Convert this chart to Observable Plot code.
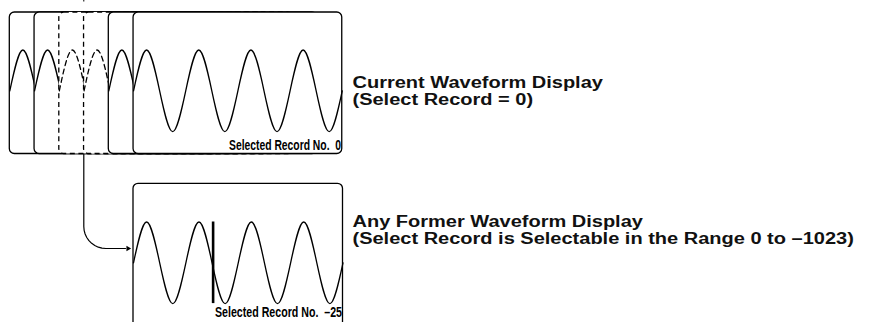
<!DOCTYPE html>
<html>
<head>
<meta charset="utf-8">
<script src="https://cdn.jsdelivr.net/npm/d3@7"></script>
<script src="https://cdn.jsdelivr.net/npm/@observablehq/plot@0.6"></script>
<style>
  html, body { margin: 0; padding: 0; background: #fff; overflow: hidden; }
  #chart svg { display: block; }
</style>
</head>
<body>
<div id="chart"></div>
<script>
// ---------- data ----------
// stacked acquisition records (oldest at left, current at right)
const stackRecords = ["-1023", "-1022", "…", "…", "-1", "0"];
const stackOmitted = [false, false, true, true, false, false];
// waveform levels read at every quarter period (zero, peak, zero, trough …), 4 periods per screen
const waveLevels = [0, 1, 0, -1, 0, 1, 0, -1, 0, 1, 0, -1, 0, 1, 0, -1, 0];
// marker bar in the former-record display spans peak to trough
const markerLevels = [1, -1];
const markerPhase = [6.08]; // in quarter periods from the screen's left edge
const recordLabels = ["Selected Record No.\u00a0\u00a00", "Selected Record No.\u00a0\u00a0\u201325"];
const captionLines = [
  "Current Waveform Display",
  "(Select Record = 0)",
  "Any Former Waveform Display",
  "(Select Record is Selectable in the Range 0 to \u20131023)"
];

// ---------- layout ----------
const W = 887, H = 322;
const L = {
  topY1: 12, topY2: 153.5, left0: 9.3, step: 24.75, frameW: 208.7,
  topMid: 90.3, amp: 40.8,
  botX1: 133, botX2: 342.5, botY1: 183.3, botY2: 340, botMid: 262.3,
  arrowX: 83.3, arrowTurnY: 226, arrowR: 22, arrowEndX: 125, arrowTipX: 130.5,
  capX: 352, capY: [87.5, 104.5, 226.5, 243.5], capSize: 16, capStretch: 1.25,
  labelRight: [340.5, 341.5], labelY: [149, 316], labelW: [112, 127], labelSize: 14,
  sw: 1.3, corner: 5
};
const q = L.frameW / (waveLevels.length - 1);
const wavePts = (left, mid) => waveLevels.map((v, i) => ({x: left + i * q, y: mid - v * L.amp}));

const marks = [];
// stacked frames, back to front
stackRecords.forEach((rec, i) => {
  const left = L.left0 + i * L.step;
  const dash = stackOmitted[i] ? {strokeDasharray: "5,3.6"} : {};
  marks.push(Plot.rect([{x1: left, x2: left + L.frameW, y1: L.topY1, y2: L.topY2}],
    {x1: "x1", x2: "x2", y1: "y1", y2: "y2", fill: "white", stroke: "black", strokeWidth: L.sw, rx: L.corner, ...dash}));
  marks.push(Plot.line(wavePts(left, L.topMid),
    {x: "x", y: "y", curve: "natural", stroke: "black", strokeWidth: L.sw, ...dash}));
});
// label in current display
marks.push(Plot.text([{x: L.labelRight[0], y: L.labelY[0], t: recordLabels[0]}],
  {x: "x", y: "y", text: "t", textAnchor: "end", lineAnchor: "bottom", fontSize: L.labelSize,
   fontWeight: "bold", fontFamily: "'Liberation Sans Narrow', 'Liberation Sans', Arial, sans-serif", fill: "black"}));

// former record display
const botQ = (L.botX2 - L.botX1) / (waveLevels.length - 1);
marks.push(Plot.rect([{x1: L.botX1, x2: L.botX2, y1: L.botY1, y2: L.botY2}],
  {x1: "x1", x2: "x2", y1: "y1", y2: "y2", fill: "white", stroke: "black", strokeWidth: L.sw, rx: L.corner}));
marks.push(Plot.line(waveLevels.map((v, i) => ({x: L.botX1 + i * botQ, y: L.botMid - v * L.amp})),
  {x: "x", y: "y", curve: "natural", stroke: "black", strokeWidth: L.sw}));
marks.push(Plot.ruleX(markerPhase.map(p => ({x: L.botX1 + p * botQ, y1: L.botMid - markerLevels[0] * L.amp, y2: L.botMid - markerLevels[1] * L.amp})),
  {x: "x", y1: "y1", y2: "y2", stroke: "black", strokeWidth: 2.6}));
marks.push(Plot.text([{x: L.labelRight[1], y: L.labelY[1], t: recordLabels[1]}],
  {x: "x", y: "y", text: "t", textAnchor: "end", lineAnchor: "bottom", fontSize: L.labelSize,
   fontWeight: "bold", fontFamily: "'Liberation Sans Narrow', 'Liberation Sans', Arial, sans-serif", fill: "black"}));

// connector arrow from an omitted record down to the former display
const arc = d3.range(0, 91, 10).map(a => ({
  x: L.arrowX + L.arrowR - L.arrowR * Math.cos(a * Math.PI / 180),
  y: L.arrowTurnY + L.arrowR * Math.sin(a * Math.PI / 180)
}));
const arrowPath = [{x: L.arrowX, y: L.topY2}, ...arc, {x: L.arrowEndX, y: L.arrowTurnY + L.arrowR}];
marks.push(Plot.line(arrowPath, {x: "x", y: "y", stroke: "black", strokeWidth: 1.2}));
marks.push(Plot.dot([{x: L.arrowTipX - 3, y: L.arrowTurnY + L.arrowR}],
  {x: "x", y: "y", symbol: "triangle", rotate: 90, r: 2, fill: "black", stroke: "none"}));
marks.push(Plot.ruleX([{x: L.arrowX, y1: 0, y2: 1.5}], {x: "x", y1: "y1", y2: "y2", stroke: "black", strokeWidth: 1}));

// captions
marks.push(Plot.text(captionLines.map((t, i) => ({x: L.capX, y: L.capY[i], t})),
  {x: "x", y: "y", text: "t", textAnchor: "start", lineAnchor: "bottom", fontSize: L.capSize,
   fontWeight: "bold", fontFamily: "'Liberation Sans', Arial, Helvetica, sans-serif", fill: "#111"}));

const chart = Plot.plot({
  width: W, height: H,
  marginTop: 0, marginRight: 0, marginBottom: 0, marginLeft: 0,
  x: {domain: [0, W], range: [0, W], axis: null},
  y: {domain: [0, H], range: [0, H], axis: null},
  style: {background: "white", overflow: "hidden"},
  marks
});
document.getElementById("chart").appendChild(chart);

// rounded frame corners (in case the rect mark ignores rx)
chart.querySelectorAll("rect").forEach(el => {
  el.setAttribute("rx", L.corner);
  el.setAttribute("ry", L.corner);
});

// stretch text horizontally like the reference artwork
chart.querySelectorAll("text").forEach(el => {
  const s = el.textContent;
  const li = recordLabels.indexOf(s);
  if (li >= 0) {
    el.setAttribute("textLength", L.labelW[li]);
    el.setAttribute("lengthAdjust", "spacingAndGlyphs");
  } else if (captionLines.includes(s)) {
    const len = el.getComputedTextLength();
    el.setAttribute("textLength", (len * L.capStretch).toFixed(1));
    el.setAttribute("lengthAdjust", "spacingAndGlyphs");
  }
});
</script>
</body>
</html>
